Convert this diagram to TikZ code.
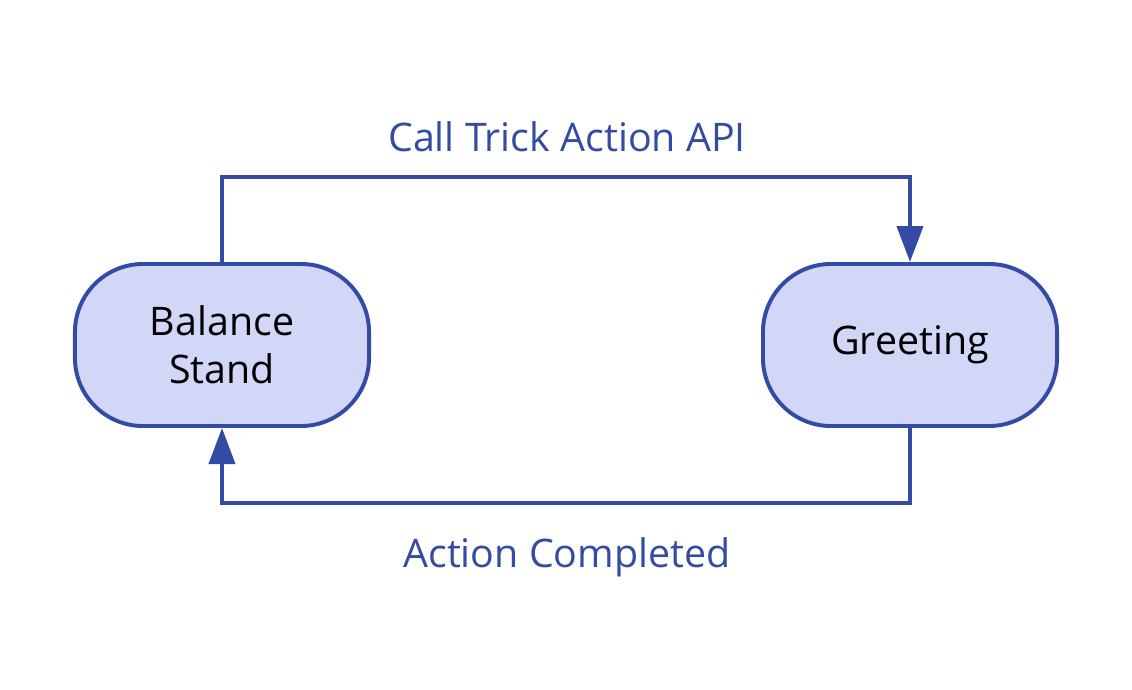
\documentclass[tikz,border=0pt]{standalone}
\usepackage{fontspec}
\setmainfont{Open Sans}
\usetikzlibrary{arrows.meta}
\definecolor{lineblue}{RGB}{51,75,163}
\definecolor{fillblue}{RGB}{211,215,247}
\tikzset{
  state/.style={draw=lineblue, fill=fillblue, line width=2.8pt,
    rectangle, rounded corners=1.7cm,
    minimum width=7.35cm, minimum height=4.05cm, align=center,
    font=\fontsize{28}{34}\selectfont},
  flow/.style={draw=lineblue, line width=2.8pt, rounded corners=0pt,
    -{Triangle[length=0.9cm, width=0.65cm]}},
  lbl/.style={text=lineblue, font=\fontsize{28}{32}\selectfont}
}
\begin{document}
\begin{tikzpicture}[x=0.025cm, y=-0.025cm]
  \useasboundingbox (0,0) rectangle (1132,690);
  \node[state] (stand) at (222,345) {Balance\\Stand};
  \node[state] (greet) at (910,345) {Greeting};
  \coordinate (tl) at (222,177);
  \coordinate (tr) at (910,177);
  \coordinate (br) at (910,503);
  \coordinate (bl) at (222,503);
  \draw[flow] (stand.north) -- (tl) -- (tr) -- (greet.north);
  \draw[flow] (greet.south) -- (br) -- (bl) -- (stand.south);
  \node[lbl] (call) at (567,137) {Call Trick Action API};
  \node[lbl] (done) at (567,557) {Action Completed};
\end{tikzpicture}
\end{document}
